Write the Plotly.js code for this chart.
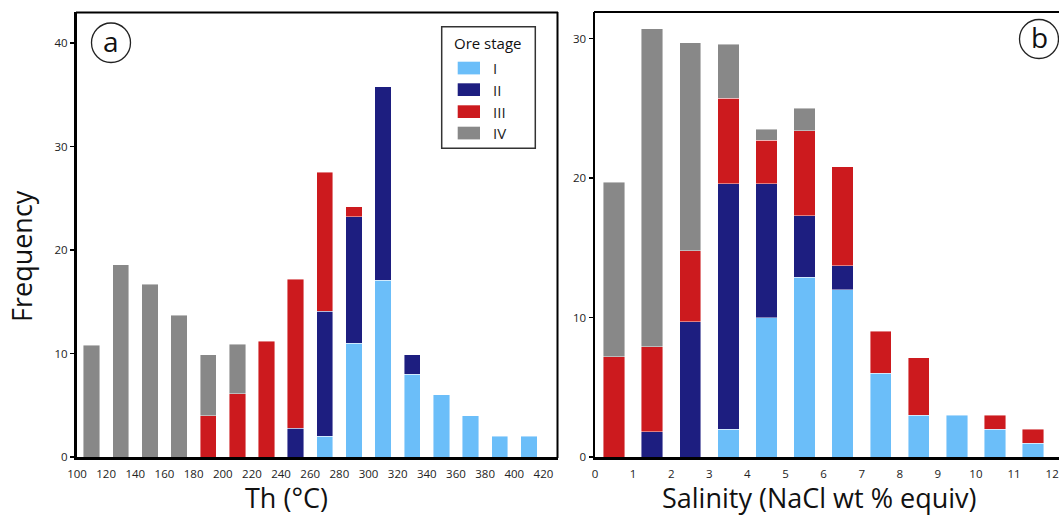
<!DOCTYPE html>
<html>
<head>
<meta charset="utf-8">
<script src="https://cdn.plot.ly/plotly-3.0.1.min.js"></script>
<style>
  html, body { margin: 0; padding: 0; overflow: hidden; background: #fff; }
  #chart { width: 1059px; height: 515px; }
</style>
</head>
<body>
<div id="chart"></div>
<script>
// Homogenization temperature bins (bin centres, °C)
const thBins = [110, 130, 150, 170, 190, 210, 230, 250, 270, 290, 310, 330, 350, 370, 390, 410];
const thTicks = [100, 120, 140, 160, 180, 200, 220, 240, 260, 280, 300, 320, 340, 360, 380, 400, 420];
const thStageI   = [null, null, null, null, null, null, null, null, 2, 11, 17.1, 8, 6, 4, 2, 2];
const thStageII  = [null, null, null, null, null, null, null, 2.8, 12.1, 12.2, 18.7, 1.9, null, null, null, null];
const thStageIII = [null, null, null, null, 4, 6.1, 11.2, 14.4, 13.4, 1.0, null, null, null, null, null, null];
const thStageIV  = [10.8, 18.6, 16.7, 13.7, 5.9, 4.8, null, null, null, null, null, null, null, null, null, null];

// Salinity bins (bin centres, NaCl wt % equiv)
const salBins = [0.5, 1.5, 2.5, 3.5, 4.5, 5.5, 6.5, 7.5, 8.5, 9.5, 10.5, 11.5];
const salTicks = [0, 1, 2, 3, 4, 5, 6, 7, 8, 9, 10, 11, 12];
const salStageI   = [null, null, null, 2, 10, 12.9, 12, 6, 3, 3, 2, 1];
const salStageII  = [null, 1.8, 9.7, 17.6, 9.6, 4.4, 1.7, null, null, null, null, null];
const salStageIII = [7.2, 6.1, 5.1, 6.1, 3.1, 6.1, 7.1, 3, 4.1, null, 1, 1];
const salStageIV  = [12.5, 22.8, 14.9, 3.9, 0.8, 1.6, null, null, null, null, null, null];

const stageNames = ['I', 'II', 'III', 'IV'];
const stageColors = ['#6bbef9', '#1d1e80', '#cc1a1e', '#888888'];

const W = 1059, H = 515, TOP = 12, BOT = 457;
const px = x => x / W;
const py = y => (BOT - y) / (BOT - TOP);

const FONT = 'Open Sans, Noto Sans, sans-serif';
const edge = { color: 'rgba(255,255,255,0.55)', width: 0.8 };

const thSeries = [thStageI, thStageII, thStageIII, thStageIV];
const salSeries = [salStageI, salStageII, salStageIII, salStageIV];

const traces = [];
stageNames.forEach((name, i) => {
  traces.push({
    type: 'bar', name: name, x: thBins, y: thSeries[i],
    xaxis: 'x', yaxis: 'y', showlegend: false,
    marker: { color: stageColors[i], line: edge }, hoverinfo: 'x+y+name'
  });
  traces.push({
    type: 'bar', name: name, x: salBins, y: salSeries[i],
    xaxis: 'x2', yaxis: 'y2', showlegend: false,
    marker: { color: stageColors[i], line: edge }, hoverinfo: 'x+y+name'
  });
});

const tickFont = { family: FONT, size: 11.5, color: '#222' };

const shapes = [
  // panel a frame (top and right)
  { type: 'line', xref: 'paper', yref: 'paper', x0: px(76), x1: px(558), y0: py(12.5), y1: py(12.5), line: { color: '#000', width: 2 } },
  { type: 'line', xref: 'paper', yref: 'paper', x0: px(557.5), x1: px(557.5), y0: py(12), y1: py(458), line: { color: '#000', width: 2 } },
  // panel b frame (top)
  { type: 'line', xref: 'paper', yref: 'paper', x0: px(594), x1: px(1059), y0: py(12), y1: py(12), line: { color: '#000', width: 2 } },
  // panel labels
  { type: 'circle', xref: 'paper', yref: 'paper', x0: px(91.5), x1: px(130.5), y0: py(23), y1: py(62.5), line: { color: '#222', width: 1.3 } },
  { type: 'circle', xref: 'paper', yref: 'paper', x0: px(1019.5), x1: px(1058.5), y0: py(19.5), y1: py(58.5), line: { color: '#222', width: 1.3 } },
  // legend box
  { type: 'rect', xref: 'paper', yref: 'paper', x0: px(441.7), x1: px(535.3), y0: py(26.7), y1: py(148.3), line: { color: '#333', width: 1.5 }, fillcolor: '#fff', layer: 'below' }
];

function label(x, y, text, size, extra) {
  return Object.assign({
    xref: 'paper', yref: 'paper', x: px(x), y: py(y), text: text, showarrow: false,
    xanchor: 'center', yanchor: 'middle', borderpad: 0,
    font: { family: FONT, size: size, color: '#111' }
  }, extra || {});
}

const annotations = [
  label(111, 41, 'a', 28),
  label(1039, 37, 'b', 28),
  label(22, 256, 'Frequency', 27, { textangle: -90 }),
  label(286, 497.5, 'Th (°C)', 27),
  label(819, 497.5, 'Salinity (NaCl wt % equiv)', 27),
  label(488, 42.5, 'Ore stage', 15)
];

// legend entries
const swatchTops = [61.7, 83.3, 105.3, 126.7];
stageNames.forEach((name, i) => {
  const t = swatchTops[i];
  shapes.push({ type: 'rect', xref: 'paper', yref: 'paper', x0: px(457.7), x1: px(480), y0: py(t), y1: py(t + 12.7), line: { width: 0 }, fillcolor: stageColors[i] });
  annotations.push(label(492, t + 6.5, name, 15, { xanchor: 'left', font: { family: FONT, size: 15, color: '#222222' } }));
});

const layout = {
  width: W, height: H,
  margin: { l: 0, r: 0, t: TOP, b: H - BOT },
  paper_bgcolor: '#fff', plot_bgcolor: '#fff',
  barmode: 'stack', bargap: 0.44,
  showlegend: false,
  xaxis: {
    domain: [px(77), px(558)], range: [100, 430], anchor: 'y',
    tickvals: thTicks, ticks: '', ticklabelstandoff: 4, showgrid: false, zeroline: false,
    showline: true, linecolor: '#000', linewidth: 3, tickfont: tickFont
  },
  yaxis: {
    domain: [0, 1], range: [0, 43], anchor: 'x',
    tickvals: [0, 10, 20, 30, 40], ticks: 'outside', ticklen: 4, tickwidth: 1.2, tickcolor: '#000',
    showgrid: false, zeroline: false, showline: true, linecolor: '#000', linewidth: 3, tickfont: tickFont
  },
  xaxis2: {
    domain: [px(595), 1], range: [0, 12.18], anchor: 'y2',
    tickvals: salTicks, ticks: '', ticklabelstandoff: 4, showgrid: false, zeroline: false,
    showline: true, linecolor: '#000', linewidth: 3, tickfont: tickFont
  },
  yaxis2: {
    domain: [0, 1], range: [0, 31.9], anchor: 'x2',
    tickvals: [0, 10, 20, 30], ticks: 'outside', ticklen: 4, tickwidth: 1.2, tickcolor: '#000',
    showgrid: false, zeroline: false, showline: true, linecolor: '#000', linewidth: 2.5, tickfont: tickFont
  },
  shapes: shapes,
  annotations: annotations
};

Plotly.newPlot('chart', traces, layout, { staticPlot: true, displayModeBar: false });
</script>
</body>
</html>
